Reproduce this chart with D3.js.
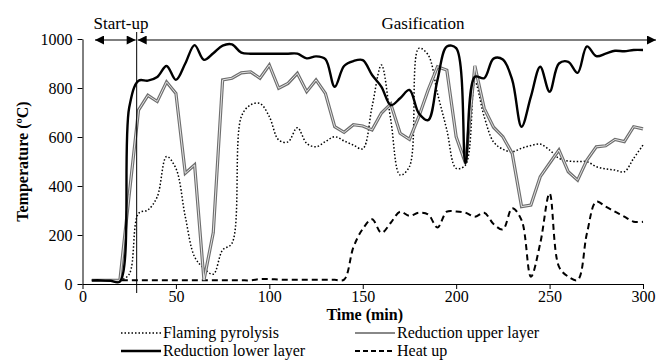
<!DOCTYPE html>
<html>
<head>
<meta charset="utf-8">
<script src="https://cdn.jsdelivr.net/npm/d3@7"></script>
<style>
  body { margin: 0; background: #fff; }
  svg { display: block; }
  svg text { font-family: "Liberation Serif", "Times New Roman", "DejaVu Serif", serif; fill: #000; }
</style>
</head>
<body>
<div id="chart"></div>
<script>
// time axis, samples every 5 min
var times = d3.range(5, 301, 5);

var flamingPyrolysis = [15, 15, 15, 15, 40, 288, 302, 356, 520, 472, 275, 111, 64, 40, 139, 166, 683, 731, 737, 683,
  588, 580, 638, 574, 560, 581, 601, 584, 567, 552, 724, 894, 670, 445, 479, 962, 935, 778, 629, 472,
  486, 826, 683, 580, 550, 540, 554, 565, 571, 547, 513, 502, 500, 499, 479, 470, 465, 458, 513, 567];

var upperLayer = [15, 15, 15, 15, 365, 710, 770, 745, 825, 778, 452, 486, 16, 210, 833, 840, 862, 866, 840, 894,
  799, 819, 860, 785, 833, 778, 642, 619, 650, 645, 629, 698, 735, 615, 590, 683, 792, 887, 873, 601,
  493, 890, 717, 640, 601, 533, 316, 322, 438, 493, 547, 458, 424, 506, 560, 564, 590, 581, 642, 633];

var lowerLayer = [15, 15, 13, 10, 720, 830, 830, 845, 890, 833, 900, 975, 915, 942, 973, 978, 944, 940, 940, 940,
  940, 940, 940, 921, 929, 918, 805, 890, 910, 914, 853, 805, 730, 758, 792, 697, 669, 833, 969, 963,
  493, 846, 840, 920, 916, 833, 642, 765, 887, 785, 900, 907, 862, 970, 930, 940, 952, 950, 955, 955];

var heatUp = [15, 15, 15, 15, 15, 15, 15, 15, 15, 15, 15, 15, 15, 15, 15, 15, 15, 15, 20, 20,
  18, 17, 17, 17, 17, 17, 17, 18, 150, 225, 264, 209, 250, 295, 278, 291, 284, 231, 295, 296,
  291, 275, 291, 245, 223, 309, 261, 30, 166, 370, 71, 30, 16, 207, 336, 316, 295, 275, 254, 254];

var xTicks = [0, 50, 100, 150, 200, 250, 300];
var yTicks = [0, 200, 400, 600, 800, 1000];
var startupEnd = 29;

var W = 659, H = 364;
var x = d3.scaleLinear().domain([0, 300]).range([82.5, 643]);
var y = d3.scaleLinear().domain([0, 1000]).range([284, 39]);

var svg = d3.select("#chart").append("svg")
    .attr("width", W)
    .attr("height", H);

var defs = svg.append("defs");
defs.append("marker")
    .attr("id", "head")
    .attr("viewBox", "0 0 10 10")
    .attr("refX", 10).attr("refY", 5)
    .attr("markerUnits", "userSpaceOnUse")
    .attr("markerWidth", 12).attr("markerHeight", 9)
    .attr("orient", "auto-start-reverse")
  .append("path")
    .attr("d", "M0,0L10,5L0,10Z")
    .attr("fill", "#000");

/* axes */
var xAxis = svg.append("g")
    .attr("transform", "translate(0," + y(0) + ")")
    .call(d3.axisBottom(x).tickValues(xTicks).tickFormat(d3.format("d")).tickSize(5).tickSizeOuter(0));
var yAxis = svg.append("g")
    .attr("transform", "translate(" + x(0) + ",0)")
    .call(d3.axisLeft(y).tickValues(yTicks).tickFormat(d3.format("d")).tickSize(5).tickSizeOuter(0));

[xAxis, yAxis].forEach(function(a) {
  a.attr("font-family", null);
  a.select(".domain").attr("stroke", "#000").attr("stroke-width", 1);
  a.selectAll(".tick line").attr("stroke", "#000");
  a.selectAll("text").attr("font-size", 16);
});
xAxis.selectAll("text").attr("dy", "0.8em").attr("y", 5);
yAxis.selectAll("text").attr("x", -10);

/* axis labels */
svg.append("text")
    .attr("x", (x(0) + x(300)) / 2 + 2)
    .attr("y", 320)
    .attr("text-anchor", "middle")
    .attr("font-size", 16)
    .attr("font-weight", "bold")
    .text("Time (min)");

svg.append("text")
    .attr("transform", "translate(28," + ((y(0) + y(1000)) / 2) + ") rotate(-90)")
    .attr("text-anchor", "middle")
    .attr("font-size", 16)
    .attr("font-weight", "bold")
    .text("Temperature (ºC)");

/* series */
var line = function(vals, curve) {
  return d3.line()
    .x(function(d, i) { return x(times[i]); })
    .y(function(d) { return y(d); })
    .curve(curve)(vals);
};

svg.append("path")
    .attr("d", line(heatUp, d3.curveCatmullRom))
    .attr("fill", "none").attr("stroke", "#000")
    .attr("stroke-width", 2).attr("stroke-dasharray", "6,4");

svg.append("path")
    .attr("d", line(flamingPyrolysis, d3.curveCatmullRom))
    .attr("fill", "none").attr("stroke", "#000")
    .attr("stroke-width", 1.5).attr("stroke-dasharray", "1.5,2");

svg.append("path")
    .attr("d", line(upperLayer, d3.curveLinear))
    .attr("fill", "none").attr("stroke", "#6e6e6e")
    .attr("stroke-width", 3.2).attr("stroke-linejoin", "miter");
svg.append("path")
    .attr("d", line(upperLayer, d3.curveLinear))
    .attr("fill", "none").attr("stroke", "#e4e4e4")
    .attr("stroke-width", 1);

svg.append("path")
    .attr("d", line(lowerLayer, d3.curveCatmullRom))
    .attr("fill", "none").attr("stroke", "#000")
    .attr("stroke-width", 2.4);

/* phase annotations */
var xs = x(startupEnd);
svg.append("line")
    .attr("x1", xs).attr("x2", xs)
    .attr("y1", 32).attr("y2", 293)
    .attr("stroke", "#000").attr("stroke-width", 1);

svg.append("line")
    .attr("x1", 95).attr("x2", xs - 1)
    .attr("y1", 40).attr("y2", 40)
    .attr("stroke", "#000").attr("stroke-width", 1.2)
    .attr("marker-start", "url(#head)")
    .attr("marker-end", "url(#head)");

svg.append("line")
    .attr("x1", xs + 1).attr("x2", 656)
    .attr("y1", 40).attr("y2", 40)
    .attr("stroke", "#000").attr("stroke-width", 1.2)
    .attr("marker-start", "url(#head)")
    .attr("marker-end", "url(#head)");

svg.append("text")
    .attr("x", 121).attr("y", 29)
    .attr("text-anchor", "middle")
    .attr("font-size", 17)
    .text("Start-up");

svg.append("text")
    .attr("x", 423).attr("y", 29)
    .attr("text-anchor", "middle")
    .attr("font-size", 17)
    .text("Gasification");

/* legend */
var legend = [
  {name: "Flaming pyrolysis", col: 0, row: 0, stroke: "#000", width: 1.5, dash: "1.5,2"},
  {name: "Reduction upper layer", col: 1, row: 0, stroke: "#888", width: 2, dash: null},
  {name: "Reduction lower layer", col: 0, row: 1, stroke: "#000", width: 2.4, dash: null},
  {name: "Heat up", col: 1, row: 1, stroke: "#000", width: 2, dash: "5,3"}
];
var lg = svg.selectAll(".leg").data(legend).enter().append("g")
    .attr("class", "leg")
    .attr("transform", function(d) {
      return "translate(" + (d.col ? 355 : 121) + "," + (d.row ? 351 : 333) + ")";
    });
lg.append("line")
    .attr("x1", 0).attr("x2", 40)
    .attr("y1", 0).attr("y2", 0)
    .attr("stroke", function(d) { return d.stroke; })
    .attr("stroke-width", function(d) { return d.width; })
    .attr("stroke-dasharray", function(d) { return d.dash; });
lg.append("text")
    .attr("x", 42).attr("y", 5)
    .attr("font-size", 16)
    .text(function(d) { return d.name; });
</script>
</body>
</html>
